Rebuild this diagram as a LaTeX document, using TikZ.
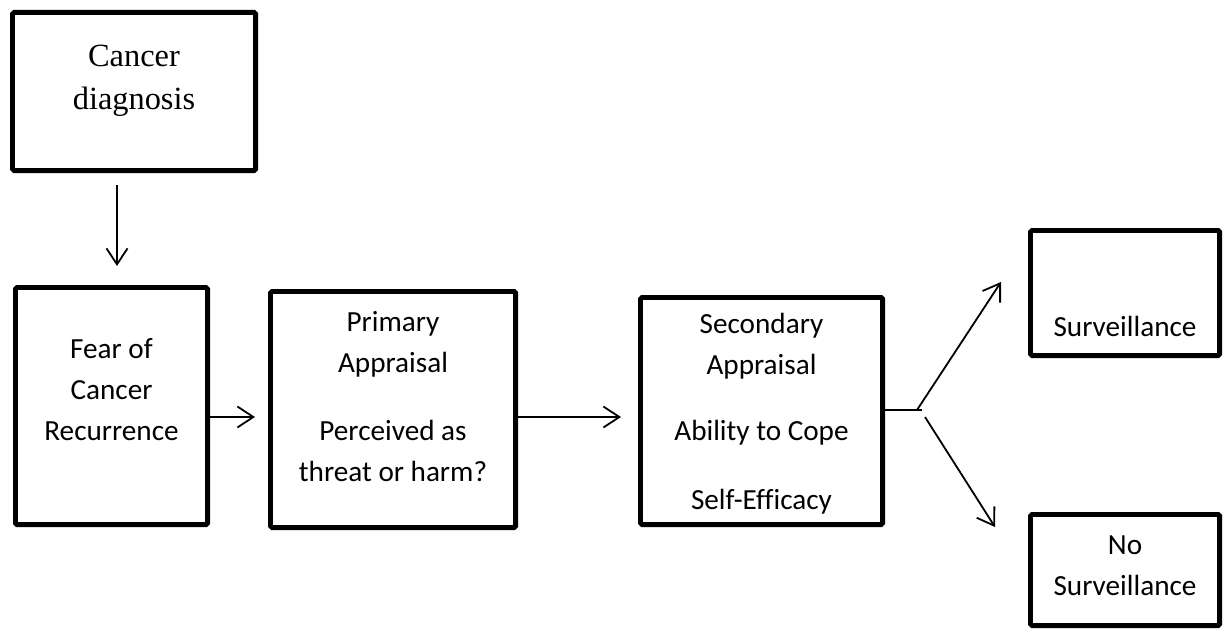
\documentclass[tikz,border=0pt]{standalone}
\usepackage{fontspec}
\setmainfont[Ligatures=NoCommon]{Carlito}
\newfontfamily\seriffont{Liberation Serif}
\usetikzlibrary{arrows.meta,calc}

\begin{document}
\begin{tikzpicture}[x=0.5pt,y=-0.5pt,>={Straight Barb[length=8pt,width=10.5pt]}]
	\tikzstyle{block}=[draw, line width=2.4pt, rounded corners=0.8pt, inner sep=0pt]
	\tikzstyle{txt}=[anchor=north, inner sep=0pt, align=center, font=\fontsize{14.6}{20.5}\selectfont]
	\tikzstyle{arr}=[->, line width=0.9pt]

	\useasboundingbox (0,0) rectangle (1224,631);

	\node (diag) [block, minimum width=121.6pt, minimum height=79.1pt,
		label={[txt, yshift=-17.5pt, font=\seriffont\fontsize{16.2}{21.5}\selectfont]north:{Cancer\\diagnosis}}] at (134,91.5) {};

	\node (fear) [block, minimum width=96.1pt, minimum height=118.6pt,
		label={[txt, yshift=-26.6pt]north:{Fear of\\Cancer\\Recurrence}}] at (111.5,406) {};

	\node (prim) [block, minimum width=122.6pt, minimum height=118.1pt,
		label={[txt, yshift=-11pt]north:{Primary\\Appraisal\\[13.5pt]Perceived as\\threat or harm?}}] at (393,409.5) {};

	\node (sec) [block, minimum width=121.1pt, minimum height=113.6pt,
		label={[txt, yshift=-9pt]north:{Secondary\\Appraisal\\[12.5pt]Ability to Cope\\[14pt]Self-Efficacy}}] at (761.5,411) {};

	\node (surv) [block, minimum width=94.6pt, minimum height=62.6pt,
		label={[txt, yshift=-44pt]north:{Surveillance}}] at (1125,293) {};

	\node (nosurv) [block, minimum width=94.6pt, minimum height=55.6pt,
		label={[txt, yshift=-11.5pt]north:{No\\Surveillance}}] at (1125,570) {};

	\draw [arr] ($(diag.south)+(-17,12)$) -- ($(fear.north)+(5.5,-19)$);
	\draw [arr] ($(fear.east)+(0,11)$) -- ($(prim.west)+(-13,7.5)$);
	\draw [arr] ($(prim.east)+(0,7.5)$) -- ($(sec.west)+(-17,6)$);

	\coordinate (split) at ($(sec.east)+(37,-1)$);
	\draw [line width=0.9pt] ($(sec.east)+(0,-1)$) -- (split);
	\draw [arr] ($(split)+(-5,0)$) -- ($(surv.west)+(-27,-11)$);
	\draw [arr] ($(split)+(3,7)$) -- ($(nosurv.west)+(-33,-43)$);
\end{tikzpicture}
\end{document}
